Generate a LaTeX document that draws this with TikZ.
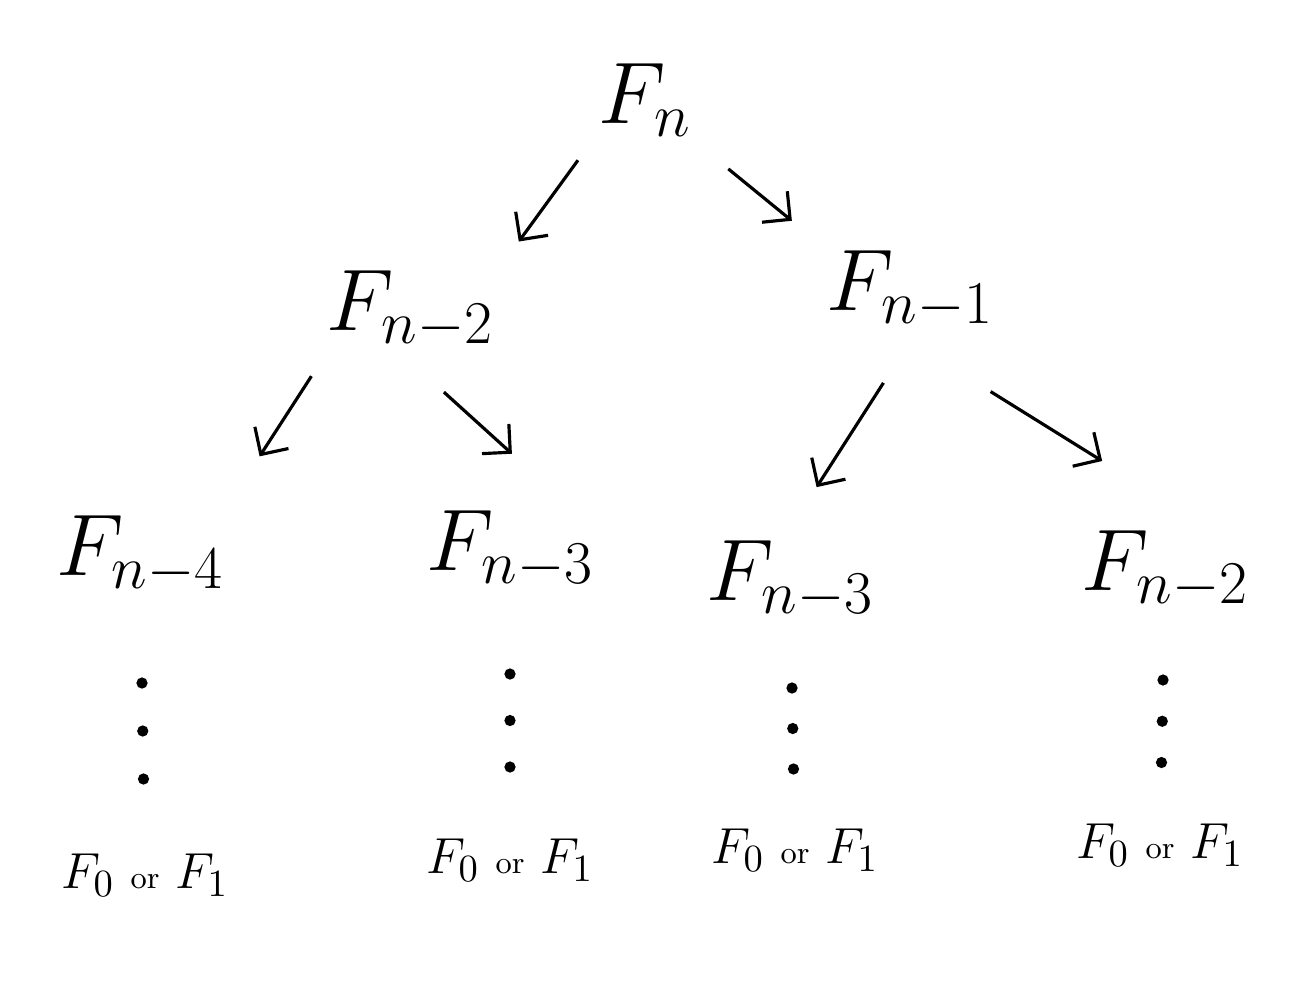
\documentclass[tikz,border=0pt]{standalone}
\usepackage{amsmath}
\usetikzlibrary{arrows.meta,calc}

\begin{document}
\begin{tikzpicture}[x=0.01cm, y=-0.01cm, >={Straight Barb[length=2mm]},
    term/.style={font=\fontsize{27}{30}\selectfont},
    leaf/.style={font=\fontsize{15}{18}\selectfont},
    link/.style={->, line width=0.9pt}]
    \useasboundingbox (0,0) rectangle (1307,1000);

    % root and its two calls
    \node[term] (fn) at (645,100) {\(F_n\)};
    \node[term] (fa) at (410,310) {\(F_{n-2}\)};
    \node[term] (fb) at (910,290) {\(F_{n-1}\)};

    \node[term] (l1) at (140,555) {\(F_{n-4}\)};
    \node[term] (l2) at (510,550) {\(F_{n-3}\)};
    \node[term] (l3) at (790,580) {\(F_{n-3}\)};
    \node[term] (l4) at (1165,570) {\(F_{n-2}\)};

    \node[leaf] (b1) at (145,875) {\(F_0\) {\small or} \(F_1\)};
    \node[leaf] (b2) at (510,860) {\(F_0\) {\small or} \(F_1\)};
    \node[leaf] (b3) at (795,850) {\(F_0\) {\small or} \(F_1\)};
    \node[leaf] (b4) at (1160,845) {\(F_0\) {\small or} \(F_1\)};

    \draw[link, shorten <=4pt, shorten >=6pt] (fn.south west) -- (fa.north east);
    \draw[link, shorten <=9pt, shorten >=8pt] (fn.south east) -- (fb.north west);
    \draw[link, shorten <=5pt, shorten >=16pt] (fa.-150) -- (l1.30);
    \draw[link, shorten <=13pt, shorten >=19pt] (fa.south) -- (l2.45);
    \draw[link, shorten <=14pt, shorten >=14pt] (fb.south) -- (l3.north);
    \draw[link, shorten <=27pt, shorten >=31pt] (fb.south) -- (l4.60);

    % the calls further down, left out
    \foreach \a/\b in {l1/b1, l2/b2, l3/b3, l4/b4}
        \foreach \t in {0.4,0.55,0.7}
            \fill ($(\a)!\t!(\b)$) circle (1.6pt);
\end{tikzpicture}
\end{document}
